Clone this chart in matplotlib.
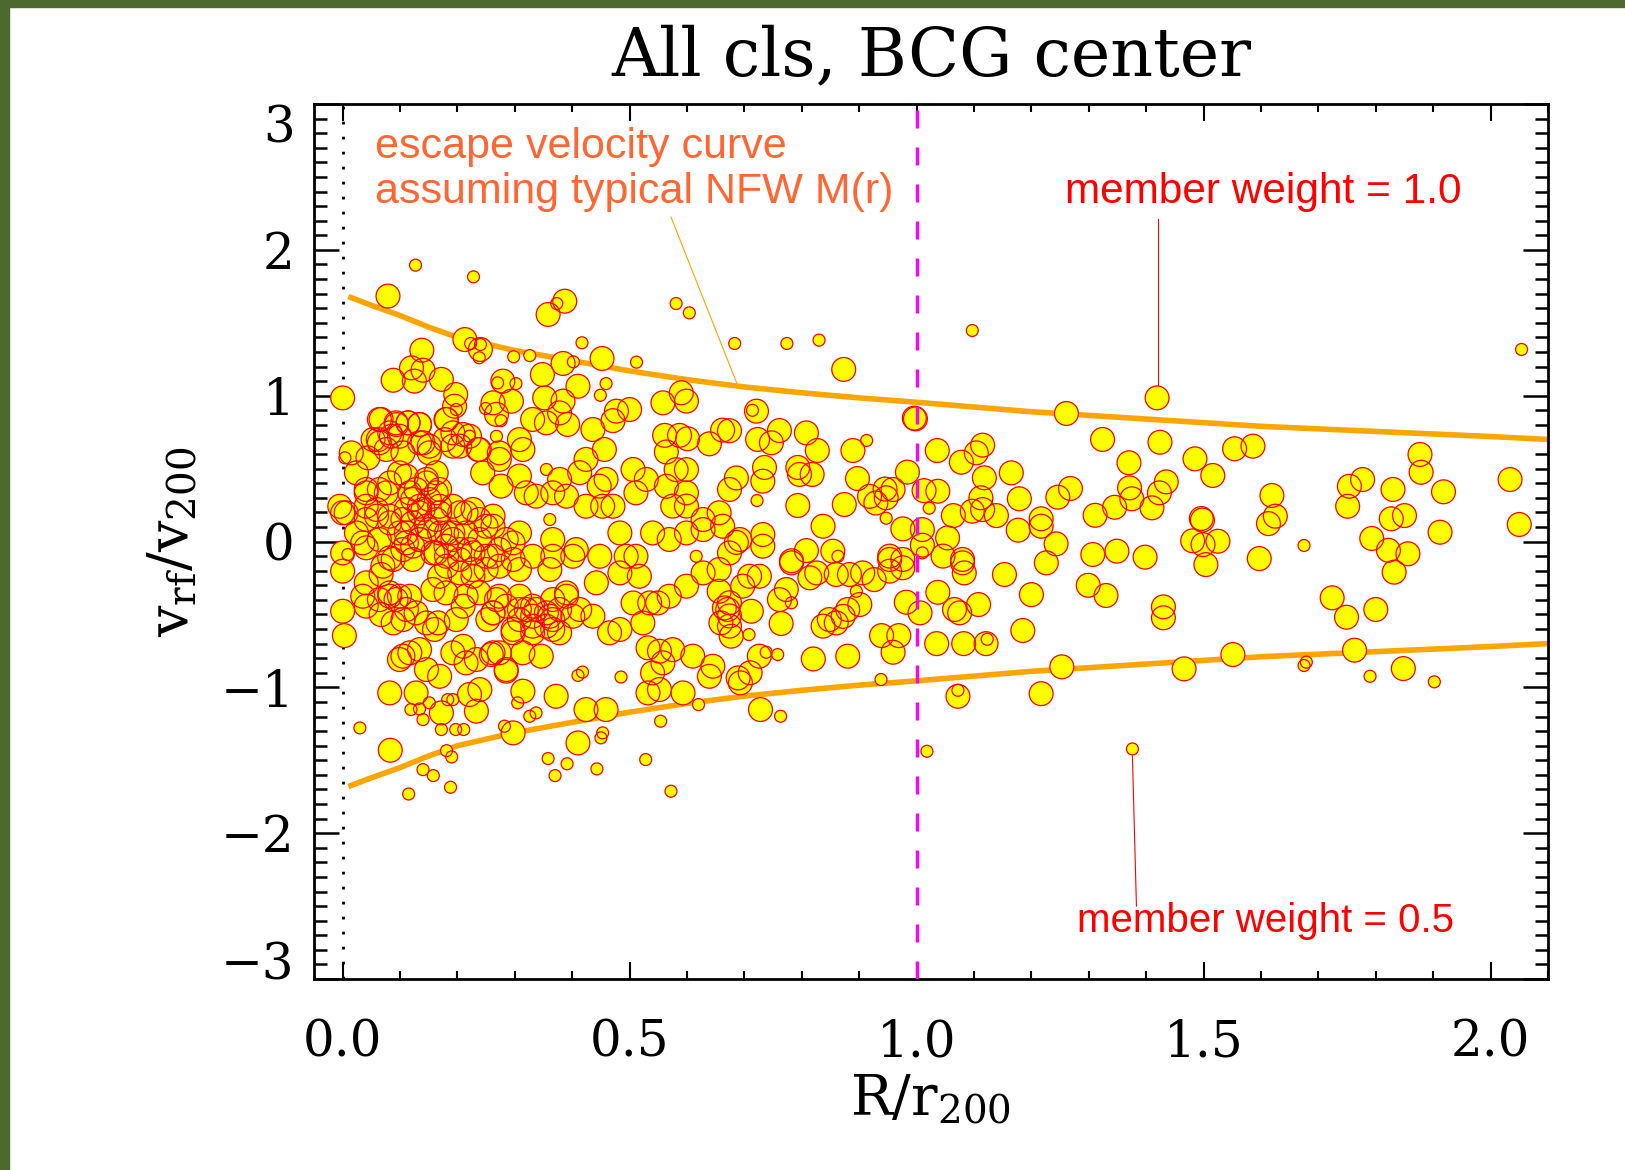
import numpy as np
import matplotlib
matplotlib.use('Agg')
import matplotlib.pyplot as plt
from matplotlib.patches import Rectangle

plt.rcParams['font.family'] = ['DejaVu Serif']
plt.rcParams['mathtext.fontset'] = 'dejavuserif'

# escape velocity curve (upper branch, lower branch is its mirror)
r_esc = [0.01, 0.05, 0.1, 0.15, 0.2, 0.3, 0.4, 0.5, 0.6, 0.7, 0.8, 0.9, 1.0,
         1.2, 1.4, 1.6, 1.8, 2.0, 2.1]
v_esc = [1.68, 1.62, 1.55, 1.47, 1.40, 1.31, 1.24, 1.17, 1.11, 1.06, 1.02,
         0.985, 0.955, 0.89, 0.84, 0.79, 0.755, 0.72, 0.70]

# galaxies with member weight = 1.0 (R/r200, v_rf/v200)
r_big = [1.419, 1.424, 1.485, 1.516, 1.554, 1.586, 1.435, 1.423, 1.410, 1.496, 1.498, 1.481, 1.499, 1.525, 1.504,
         1.398, 1.619, 1.625, 1.613, 1.597, 1.754, 1.777, 1.751, 1.830, 1.877, 1.879, 1.918, 1.827, 1.850, 1.912,
         1.793, 1.822, 1.856, 1.832, 2.034, 2.050, 1.724, 1.749, 1.800, 1.430, 1.430, 1.466, 1.551, 1.763, 1.848,
         0.873, 0.998, 0.996, 1.261, 1.324, 1.370, 1.371, 1.375, 1.345, 1.311, 1.246, 1.268, 1.217, 1.217, 1.177,
         1.243, 1.307, 1.349, 1.226, 1.179, 1.165, 1.118, 1.112, 1.115, 1.139, 1.097, 1.064, 1.115, 1.104, 1.078,
         1.036, 1.037, 1.013, 0.984, 0.959, 0.945, 0.947, 0.918, 0.929, 0.874, 0.897, 0.889, 0.976, 1.010, 1.010,
         1.054, 1.046, 1.080, 0.953, 0.793, 0.808, 0.827, 0.793, 0.796, 0.818, 0.761, 0.747, 0.723, 0.721, 0.735,
         0.732, 0.686, 0.674, 0.732, 0.732, 0.837, 0.808, 0.854, 0.686, 0.782,
         1.080, 1.083, 1.153, 1.200, 1.299, 1.330, 1.185, 1.121, 1.082, 1.035, 1.108, 1.075, 1.066, 1.037, 1.006,
         0.982, 0.959, 0.939, 0.969, 0.880, 0.820, 0.726, 0.710, 0.693, 0.764, 0.848, 0.860, 0.872, 0.880, 0.901,
         0.837, 0.728, 1.072, 1.217, 1.253, 0.692, 0.674, 0.782, 0.826, 0.814, 0.709, 0.726, 0.697, 0.773, 0.761,
         0.712, 0.674, 0.674, 0.860, 0.883, 0.906, 0.926, 0.953, 0.976, 0.953, 0.976,
         0.079, 0.358, 0.387, 0.213, 0.240, 0.452, 0.384, 0.138, 0.120, 0.140, 0.088, 0.125, 0.172, 0.000, 0.197,
         0.195, 0.279, 0.348, 0.410, 0.352, 0.384, 0.262, 0.294, 0.268, 0.558, 0.590, 0.599, 0.500, 0.477, 0.471,
         0.662, 0.639, 0.601, 0.587, 0.561, 0.564, 0.581, 0.067, 0.093, 0.114, 0.134, 0.085, 0.062, 0.015, 0.044,
         0.180, 0.210, 0.178, 0.192, 0.140, 0.236, 0.273, 0.314, 0.308, 0.331, 0.355, 0.378, 0.392, 0.436, 0.456,
         0.424, 0.413, 0.378, 0.459, 0.506, 0.529, 0.511, 0.564, 0.599, 0.599, 0.575, 0.599, 0.656, 0.674, 0.244,
         0.273, 0.276, 0.308, 0.320, 0.337, 0.366, 0.390, 0.424, 0.453, 0.471, 0.447, 0.099, 0.146, 0.163, 0.117,
         0.076, 0.041, 0.041, 0.059, 0.006, -0.005, 0.082, 0.134, 0.169, 0.204, 0.227, 0.262, 0.105, 0.151, 0.662,
         0.628,
         0.000, 0.000, 0.041, 0.067, 0.041, 0.082, 0.105, 0.122, 0.134, 0.111, 0.151, 0.163, 0.180, 0.192, 0.204,
         0.221, 0.239, 0.250, 0.227, 0.262, 0.285, 0.308, 0.308, 0.331, 0.361, 0.366, 0.366, 0.401, 0.407, 0.448,
         0.483, 0.494, 0.483, 0.517, 0.511, 0.540, 0.569, 0.599, 0.628,
         0.000, 0.003, 0.035, 0.067, 0.088, 0.105, 0.082, 0.099, 0.117, 0.093, 0.111, 0.128, 0.146, 0.166, 0.160,
         0.157, 0.180, 0.210, 0.198, 0.210, 0.192, 0.215, 0.233, 0.239, 0.262, 0.285, 0.273, 0.105, 0.099, 0.117,
         0.134, 0.146, 0.169, 0.082, 0.128, 0.172, 0.233, 0.221, 0.253, 0.262, 0.273, 0.297, 0.308, 0.320, 0.337,
         0.361, 0.378, 0.366, 0.390, 0.413, 0.442, 0.436, 0.465, 0.483, 0.506, 0.523, 0.535, 0.532, 0.549, 0.569,
         0.599, 0.628, 0.656, 0.671, 0.674, 0.259, 0.285, 0.314, 0.346, 0.314, 0.372, 0.297, 0.424, 0.459, 0.410,
         0.552, 0.558, 0.540, 0.575, 0.610, 0.645, 0.639, 0.532, 0.552, 0.593, 0.689, 0.656, 0.665, 0.659, 0.677,
         0.083]
v_big = [0.985, 0.681, 0.567, 0.453, 0.636, 0.654, 0.409, 0.334, 0.231, 0.158, 0.147, 0.005, -0.021, 0.002, -0.158,
         -0.107, 0.316, 0.174, 0.123, -0.117, 0.379, 0.425, 0.242, 0.357, 0.597, 0.475, 0.341, 0.156, 0.178, 0.064,
         0.021, -0.060, -0.084, -0.210, 0.425, 0.117, -0.386, -0.519, -0.466, -0.448, -0.523, -0.873, -0.775, -0.745, -0.871,
         1.180, 0.841, 0.846, 0.878, 0.700, 0.540, 0.368, 0.293, 0.235, 0.180, 0.304, 0.364, 0.156, 0.105, 0.078,
         -0.016, -0.089, -0.066, -0.146, 0.293, 0.471, 0.437, 0.300, 0.219, 0.178, 0.208, 0.178, 0.661, 0.608, 0.544,
         0.624, 0.345, 0.349, 0.476, 0.357, 0.360, 0.300, 0.310, 0.264, 0.254, 0.432, 0.624, 0.087, 0.082, -0.025,
         0.025, -0.100, -0.123, -0.100, 0.247, 0.745, 0.624, 0.508, 0.460, 0.460, 0.761, 0.677, 0.700, 0.894, 0.508,
         0.414, 0.436, 0.760, 0.048, -0.032, 0.105, -0.062, -0.066, -0.006, -0.132,
         -0.146, -0.215, -0.226, -0.364, -0.300, -0.370, -0.610, -0.700, -0.700, -0.700, -0.432, -0.489, -0.466, -0.348, -0.489,
         -0.416, -0.759, -0.645, -0.645, -0.786, -0.805, -0.786, -0.900, -0.969, -0.562, -0.535, -0.558, -0.513, -0.466, -0.432,
         -0.580, -1.152, -1.061, -1.043, -0.859, 0.014, -0.078, -0.146, -0.215, -0.249, -0.238, -0.238, -0.306, -0.329, -0.398,
         -0.478, -0.420, -0.510, -0.226, -0.226, -0.215, -0.261, -0.203, -0.180, -0.123, -0.123,
         1.683, 1.557, 1.648, 1.385, 1.317, 1.255, 1.221, 1.312, 1.191, 1.175, 1.106, 1.100, 1.112, 0.985, 1.008,
         0.928, 1.100, 1.145, 1.065, 0.985, 0.963, 0.951, 0.962, 0.872, 0.951, 1.020, 0.963, 0.905, 0.894, 0.829,
         0.764, 0.670, 0.705, 0.728, 0.728, 0.614, 0.493, 0.837, 0.814, 0.814, 0.803, 0.722, 0.699, 0.608, 0.574,
         0.837, 0.734, 0.699, 0.654, 0.677, 0.631, 0.608, 0.631, 0.699, 0.837, 0.814, 0.882, 0.803, 0.768, 0.631,
         0.563, 0.472, 0.426, 0.426, 0.494, 0.426, 0.334, 0.379, 0.493, 0.334, 0.243, 0.243, 0.197, 0.357, 0.471,
         0.563, 0.380, 0.449, 0.334, 0.311, 0.334, 0.311, 0.242, 0.242, 0.242, 0.380, 0.471, 0.426, 0.334, 0.334,
         0.334, 0.357, 0.242, 0.174, 0.197, 0.242, 0.174, 0.197, 0.242, 0.197, 0.220, 0.174, 0.608, 0.608, 0.105,
         0.151,
         -0.078, -0.203, -0.043, -0.226, -0.283, -0.112, -0.055, -0.123, 0.014, 0.059, 0.082, -0.078, -0.032, 0.059, -0.123,
         -0.055, 0.014, 0.105, -0.238, -0.101, 0.014, 0.059, -0.192, -0.101, -0.192, -0.101, 0.014, -0.101, -0.055, -0.101,
         0.059, -0.101, -0.215, -0.238, -0.101, 0.059, 0.014, 0.059, 0.082,
         -0.478, -0.645, -0.375, -0.501, -0.558, -0.535, -0.375, -0.375, -0.375, -0.398, -0.466, -0.489, -0.558, -0.558, -0.603,
         -0.329, -0.352, -0.443, -0.535, -0.718, -0.763, -0.832, -0.809, -1.015, -0.763, -0.878, -0.763, -0.786, -0.809, -0.763,
         -0.741, -0.878, -0.924, -1.038, -1.038, -1.175, -1.163, -1.049, -0.535, -0.489, -0.375, -0.626, -0.466, -0.466, -0.466,
         -0.512, -0.626, -0.535, -0.375, -0.466, -0.283, -0.512, -0.626, -0.603, -0.421, -0.558, -0.421, -0.729, -0.421, -0.375,
         -0.306, -0.215, -0.192, -0.466, -0.580, -0.775, -0.889, -0.763, -0.786, -1.026, -1.061, -1.312, -1.152, -1.152, -1.381,
         -0.752, -0.832, -0.901, -0.741, -0.786, -0.855, -0.924, -1.038, -1.015, -1.038, -0.935, -0.341, -0.455, -0.558, -0.649,
         -1.431]

# extra weight = 1.0 galaxies in the crowded core (R < 0.4)
r_core = [0.064, 0.094, 0.114, 0.134, 0.082, 0.099, 0.064, 0.053, 0.076, 0.134, 0.151, 0.181, 0.192, 0.204, 0.238,
          0.221, 0.024, 0.041, 0.064, 0.082, 0.111, 0.128, 0.146, 0.169, 0.163, 0.111, 0.134, 0.151, 0.122, 0.146,
          0.169, 0.192, 0.215, 0.238, 0.262, 0.215, 0.192, 0.169, 0.134, 0.111, 0.099, 0.122, 0.157, 0.181, 0.204,
          0.227, 0.250, 0.273, 0.297, 0.297, 0.273, 0.250, 0.227, 0.204, 0.181, 0.169, 0.070, 0.088, 0.041, 0.024,
          0.064, 0.000, 0.035, 0.059, 0.082, 0.105, 0.122, 0.140, 0.163, 0.181, 0.082, 0.064, 0.041, 0.215, 0.238,
          0.268, 0.285, 0.262, 0.308, 0.331, 0.355, 0.378, 0.401, 0.366, 0.331, 0.297, 0.308, 0.331, 0.355, 0.331,
          0.390, 0.366]
v_core = [0.837, 0.802, 0.814, 0.802, 0.745, 0.722, 0.677, 0.699, 0.631, 0.677, 0.654, 0.837, 0.745, 0.654, 0.631,
          0.722, 0.471, 0.334, 0.357, 0.402, 0.448, 0.357, 0.402, 0.357, 0.471, 0.220, 0.242, 0.288, 0.128, 0.105,
          0.197, 0.242, 0.197, 0.151, 0.105, 0.059, 0.014, 0.059, 0.014, -0.009, 0.059, -0.032, -0.078, -0.101, -0.055,
          -0.078, -0.101, -0.055, -0.009, -0.123, -0.169, -0.192, -0.192, -0.215, -0.169, -0.238, -0.169, -0.123, 0.151,
          0.059, 0.014, 0.197, -0.009, 0.220, 0.128, 0.151, 0.288, 0.220, 0.151, 0.059, -0.352, -0.398, -0.443, -0.375,
          -0.352, -0.398, -0.443, -0.489, -0.375, -0.443, -0.489, -0.466, -0.512, -0.603, -0.626, -0.603, -0.535, -0.512,
          -0.580, -0.580, -0.352, -0.398]

# galaxies with member weight = 0.5
r_small = [2.054, 1.675, 1.675, 1.679, 1.790, 1.902,
           0.683, 0.774, 0.830, 1.097, 1.022, 0.913, 0.947, 0.714, 0.722,
           1.010, 1.123, 0.758, 0.738, 0.708, 0.895, 0.938, 0.763, 1.072, 1.018, 1.376, 0.782, 0.863,
           0.127, 0.228, 0.373, 0.581, 0.604, 0.223, 0.240, 0.238, 0.417, 0.298, 0.326, 0.512, 0.402, 0.198,
           0.270, 0.302, 0.459, 0.449, 0.249, 0.276, 0.004, 0.221, 0.268, 0.355, 0.361,
           0.009, 0.616,
           0.151, 0.183, 0.192, 0.305, 0.282, 0.326, 0.337, 0.410, 0.418, 0.485, 0.453, 0.450, 0.620, 0.554,
           0.528, 0.572, 0.030, 0.181, 0.190, 0.140, 0.158, 0.115, 0.188, 0.358, 0.391, 0.370, 0.443, 0.172,
           0.197, 0.211, 0.140, 0.119, 0.134]
v_small = [1.317, -0.027, -0.850, -0.827, -0.924, -0.962,
           1.358, 1.358, 1.381, 1.447, 0.229, 0.693, 0.160, 0.900, 0.281,
           -0.078, -0.670, -0.775, -0.759, -0.638, -0.341, -0.946, -1.198, -1.020, -1.438, -1.422, -0.420, -0.101,
           1.895, 1.815, 1.632, 1.632, 1.568, 1.358, 1.351, 1.260, 1.363, 1.267, 1.275, 1.230, 1.232, 0.905,
           1.088, 1.083, 1.083, 1.003, 0.912, 0.829, 0.574, 0.722, 0.722, 0.494, 0.151,
           -0.089, -0.101,
           -1.106, -1.084, -1.084, -1.106, -1.266, -1.198, -1.175, -0.918, -0.895, -0.929, -1.312, -1.346, -1.118, -1.232,
           -1.495, -1.712, -1.278, -1.434, -1.477, -1.564, -1.605, -1.731, -1.685, -1.488, -1.524, -1.605, -1.559, -1.289,
           -1.289, -1.289, -1.221, -1.152, -1.148]

xticks = [0.0, 0.5, 1.0, 1.5, 2.0]
xticklabels = ['0.0', '0.5', '1.0', '1.5', '2.0']
yticks = [-3, -2, -1, 0, 1, 2, 3]
yticklabels = ['\u22123', '\u22122', '\u22121', '0', '1', '2', '3']

fig = plt.figure(figsize=(16.25, 11.7), dpi=100)
# slide background peeking at the top and left
fig.patches.append(Rectangle((0, 1 - 7 / 1170), 1, 7 / 1170, transform=fig.transFigure,
                             color='#4e692d', zorder=0))
fig.patches.append(Rectangle((0, 0), 9 / 1625, 1, transform=fig.transFigure,
                             color='#4e692d', zorder=0))

ax = fig.add_axes([0.1932, 0.1632, 0.7594, 0.7479])

s_big = 295
s_small = 74

ax.plot(r_esc, v_esc, color='#ffa500', lw=4, zorder=2, solid_capstyle='butt')
ax.plot(r_esc, [-v for v in v_esc], color='#ffa500', lw=4, zorder=2, solid_capstyle='butt')
ax.axvline(0.0, color='black', lw=2, linestyle=(0, (1, 4.4)), zorder=1)

r_all = r_big + r_core
v_all = v_big + v_core
# fills first, outlines afterwards (outlines show through)
ax.scatter(r_all, v_all, s=s_big, c='#ffff00', edgecolors='none', zorder=3)
ax.scatter(r_small, v_small, s=s_small, c='#ffff00', edgecolors='none', zorder=3)
ax.scatter(r_all, v_all, s=s_big, facecolors='none', edgecolors='#ff0000', linewidths=0.9, zorder=4)
ax.scatter(r_small, v_small, s=s_small, facecolors='none', edgecolors='#ff0000', linewidths=0.9, zorder=4)

ax.axvline(1.0, color='#ff00ff', lw=2.4, linestyle=(0, (5.4, 5.7)), zorder=5)

# annotations
ax.text(0.057, 2.55, 'escape velocity curve\nassuming typical NFW M(r)', color='#ff6633',
        fontsize=31, family=['Liberation Sans', 'DejaVu Sans'], va='center', ha='left',
        linespacing=1.15, zorder=6)
ax.plot([0.572, 0.688], [2.225, 1.073], color='#ffa500', lw=0.8, zorder=6)

ax.text(1.258, 2.40, 'member weight = 1.0', color='#ff0000', fontsize=30.5,
        family=['Liberation Sans', 'DejaVu Sans'], va='center', ha='left', zorder=6)
ax.plot([1.42, 1.42], [2.21, 1.07], color='#ff0000', lw=0.8, zorder=6)

ax.text(1.280, -2.60, 'member weight = 0.5', color='#ff0000', fontsize=29,
        family=['Liberation Sans', 'DejaVu Sans'], va='center', ha='left', zorder=6)
ax.plot([1.376, 1.383], [-1.471, -2.50], color='#ff0000', lw=0.8, zorder=6)

ax.set_xlim(-0.05, 2.1)
ax.set_ylim(-3, 3)
ax.set_xticks(xticks)
ax.set_xticklabels(xticklabels)
ax.set_yticks(yticks)
ax.set_yticklabels(yticklabels)
ax.set_xticks(np.arange(0.0, 2.11, 0.1), minor=True)
ax.set_yticks(np.arange(-3, 3.01, 0.1), minor=True)

ax.tick_params(axis='both', which='both', direction='in', top=True, right=True)
ax.tick_params(axis='y', which='major', length=18, width=1.8, pad=14, labelsize=36)
ax.tick_params(axis='y', which='minor', length=9.5, width=1.8)
ax.tick_params(axis='x', which='major', length=12, width=1.5, pad=28, labelsize=36)
ax.tick_params(axis='x', which='minor', length=6, width=1.5)
for sp in ax.spines.values():
    sp.set_linewidth(2)

# end labels kept inside the axis range, like the original
ylabs = ax.get_yticklabels()
ylabs[0].set_va('baseline')
ylabs[-1].set_va('top')

ax.set_xlabel(r'$\mathrm{R/r_{200}}$', fontsize=40)
ax.set_ylabel(r'$\mathrm{v_{rf}/v_{200}}$', fontsize=40)
ax.xaxis.set_label_coords(0.5, -0.108)
ax.yaxis.set_label_coords(-0.092, 0.5)

fig.text(0.573, 1 - 57 / 1170, 'All cls, BCG center', fontsize=48, ha='center', va='center')

fig.savefig('out.png', dpi=100, facecolor='white')
